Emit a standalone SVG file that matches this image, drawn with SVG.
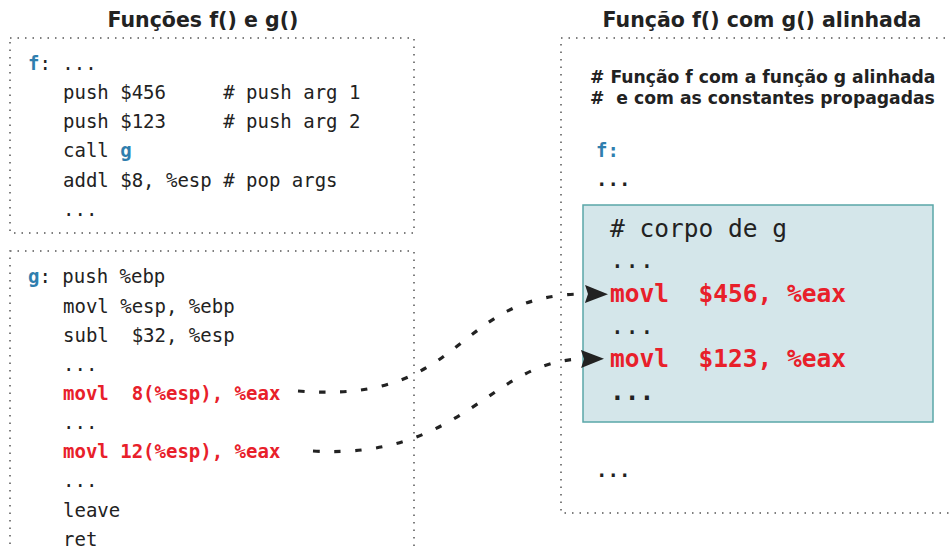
<svg xmlns="http://www.w3.org/2000/svg" width="951" height="550" viewBox="0 0 951 550">
  <style>
    .frame { fill: none; stroke: #555; stroke-width: 1.5; stroke-dasharray: 1.5 6; }
    .title { font-family: "DejaVu Sans", "Liberation Sans", sans-serif; font-weight: bold; font-size: 20.5px; fill: #222; }
    .note { font-family: "DejaVu Sans", "Liberation Sans", sans-serif; font-weight: bold; font-size: 17.2px; fill: #222; }
    .code { font-family: "DejaVu Sans Mono", "Liberation Mono", monospace; font-size: 19px; fill: #222; }
    .big { font-family: "DejaVu Sans Mono", "Liberation Mono", monospace; font-size: 24.5px; fill: #222; }
    .lbl { fill: #2f7eae; font-weight: bold; }
    .hot { fill: #e8202a; font-weight: bold; }
    .b { font-weight: bold; }
    .link { fill: none; stroke: #222; stroke-width: 3.2; stroke-dasharray: 6.5 14.5; }
  </style>
  <defs>
    <marker id="head" markerUnits="userSpaceOnUse" markerWidth="26" markerHeight="20" refX="2" refY="9" orient="auto">
      <path d="M0,0 L23,9 L0,18 L3,9 Z" fill="#222"/>
    </marker>
  </defs>

  <rect width="951" height="550" fill="#fff"/>

  <!-- left column: original functions -->
  <text class="title" x="203" y="27" text-anchor="middle">Funções f() e g()</text>

  <g id="func-f">
    <rect class="frame" x="10" y="38" width="404" height="195"/>
    <text class="code" xml:space="preserve">
      <tspan x="28" y="70"><tspan class="lbl">f</tspan>: ...</tspan>
      <tspan x="63" y="99">push $456     # push arg 1</tspan>
      <tspan x="63" y="128">push $123     # push arg 2</tspan>
      <tspan x="63" y="157">call <tspan class="lbl">g</tspan></tspan>
      <tspan x="63" y="187">addl $8, %esp # pop args</tspan>
      <tspan x="63" y="216">...</tspan>
    </text>
  </g>

  <g id="func-g">
    <rect class="frame" x="10" y="251" width="404" height="320"/>
    <text class="code" xml:space="preserve">
      <tspan x="28" y="283"><tspan class="lbl">g</tspan>: push %ebp</tspan>
      <tspan x="63" y="313">movl %esp, %ebp</tspan>
      <tspan x="63" y="342">subl  $32, %esp</tspan>
      <tspan x="63" y="371">...</tspan>
      <tspan x="63" y="400" class="hot">movl  8(%esp), %eax</tspan>
      <tspan x="63" y="429">...</tspan>
      <tspan x="63" y="458" class="hot">movl 12(%esp), %eax</tspan>
      <tspan x="63" y="487">...</tspan>
      <tspan x="63" y="517">leave</tspan>
      <tspan x="63" y="546">ret</tspan>
    </text>
  </g>

  <!-- right column: f with g inlined -->
  <text class="title" x="762" y="27" text-anchor="middle">Função f() com g() alinhada</text>

  <g id="func-f-inlined">
    <rect class="frame" x="561" y="38" width="410" height="475"/>
    <text class="note" xml:space="preserve">
      <tspan x="590" y="83"># Função f com a função g alinhada</tspan>
      <tspan x="590" y="104">#  e com as constantes propagadas</tspan>
    </text>
    <text class="code b" x="596" y="157"><tspan class="lbl">f:</tspan></text>
    <text class="code b" x="596" y="186">...</text>
    <text class="code b" x="596" y="477">...</text>
  </g>

  <g id="body-g">
    <rect x="583" y="205" width="350" height="217" fill="#d4e6ea" stroke="#5aa7a8" stroke-width="1.5"/>
    <text class="big" xml:space="preserve">
      <tspan x="610" y="237"># corpo de g</tspan>
      <tspan x="610" y="268">...</tspan>
      <tspan x="610" y="302" class="hot">movl  $456, %eax</tspan>
      <tspan x="610" y="334">...</tspan>
      <tspan x="610" y="367" class="hot">movl  $123, %eax</tspan>
      <tspan x="610" y="400" class="b">...</tspan>
    </text>
  </g>

  <g id="connectors">
    <path class="link" d="M298,391 C470,405 450,293 587,294" marker-end="url(#head)"/>
    <path class="link" d="M313,451 C465,460 490,360 583,359" marker-end="url(#head)"/>
  </g>
</svg>
